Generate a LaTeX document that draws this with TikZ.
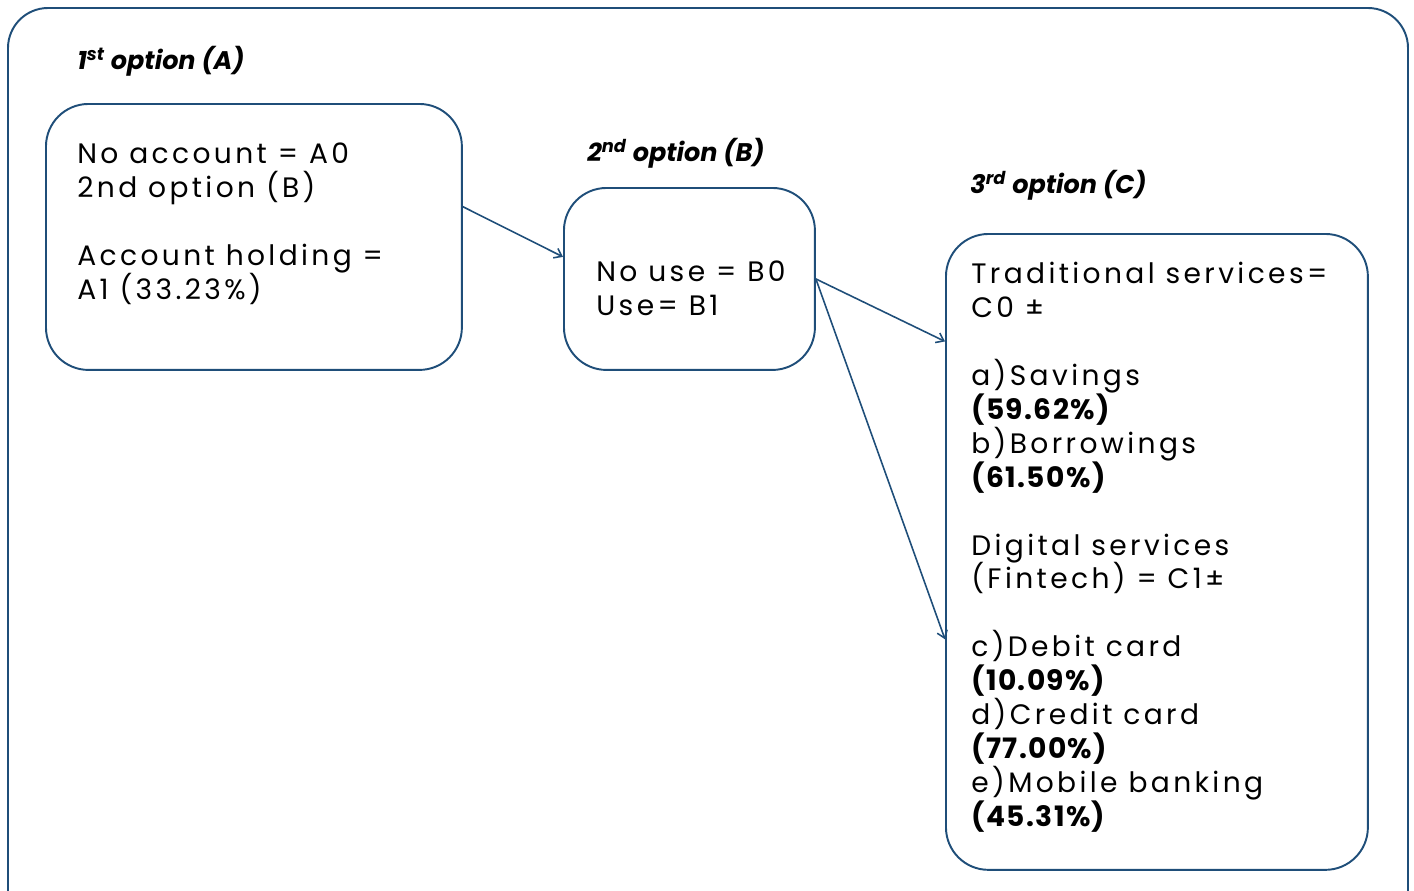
\documentclass[tikz,border=0pt]{standalone}
\usepackage{fontspec}
\setmainfont{Poppins}
\newfontfamily\trackfont[LetterSpace=12]{Poppins}
\newfontfamily\pctfont[LetterSpace=5]{Poppins}
\newcommand{\pct}[1]{{\pctfont\bfseries #1}}
\usetikzlibrary{positioning,calc,arrows.meta}
\definecolor{frameblue}{HTML}{1F4E79}

\tikzset{
    optbox/.style={draw=frameblue, line width=1.1pt, rounded corners=0.85cm, anchor=north west, inner sep=0pt},
    opttext/.style={anchor=north west, inner sep=0pt, align=left, font=\trackfont\fontsize{16}{19.3}\selectfont},
    opthead/.style={anchor=west, inner sep=0pt, font=\bfseries\itshape\fontsize{14.5}{16}\selectfont},
    optarrow/.style={draw=frameblue, line width=0.9pt, -{Straight Barb[length=4pt,width=6pt]}}
}

\begin{document}
\begin{tikzpicture}[x=0.02cm, y=-0.02cm]
    \useasboundingbox (0,0) rectangle (1414,890);
    % outer frame
    \draw[frameblue, line width=1.1pt, rounded corners=0.8cm] (8,910) -- (8,8) -- (1408,8) -- (1408,910);

    % headings
    \node[opthead] (headA) at (77,61) {1\textsuperscript{st} option (A)};
    \node[opthead] (headB) at (587,153) {2\textsuperscript{nd} option (B)};
    \node[opthead] (headC) at (970,185) {3\textsuperscript{rd} option (C)};

    % boxes
    \node[optbox, minimum width=8.32cm, minimum height=5.32cm] (boxA) at (45,103) {};
    \node[optbox, minimum width=5.02cm, minimum height=3.64cm] (boxB) at (563,187) {};
    \node[optbox, minimum width=8.44cm, minimum height=12.72cm] (boxC) at (945,233) {};

    % texts
    \node[opttext] (textA) at (77,143) {No account = A0\\2nd option (B)\\[19.3pt]Account holding =\\A1 (33.23\%)};
    \node[opttext] (textB) at (596,261) {No use = B0\\Use= B1};
    \node[opttext] (textC) at (971,262) {Traditional services=\\C0 ±\\[19.3pt]a)Savings\\\pct{(59.62\%)}\\b)Borrowings\\\pct{(61.50\%)}\\[19.3pt]Digital services\\(Fintech) = C1±\\[19.3pt]c)Debit card\\\pct{(10.09\%)}\\d)Credit card\\\pct{(77.00\%)}\\e)Mobile banking\\\pct{(45.31\%)}};

    % connectors
    \coordinate (outA) at ($(boxA.north east)!0.387!(boxA.south east)$);
    \coordinate (inB) at ($(boxB.north west)!0.38!(boxB.south west)$);
    \coordinate (outB) at ($(boxB.north east)!0.5!(boxB.south east)$);
    \coordinate (inC1) at ($(boxC.north west)!0.17!(boxC.south west)$);
    \coordinate (inC2) at ($(boxC.north west)!0.637!(boxC.south west)$);
    \draw[optarrow] (outA) -- (inB);
    \draw[optarrow] (outB) -- (inC1);
    \draw[optarrow] (outB) -- (inC2);
\end{tikzpicture}
\end{document}
